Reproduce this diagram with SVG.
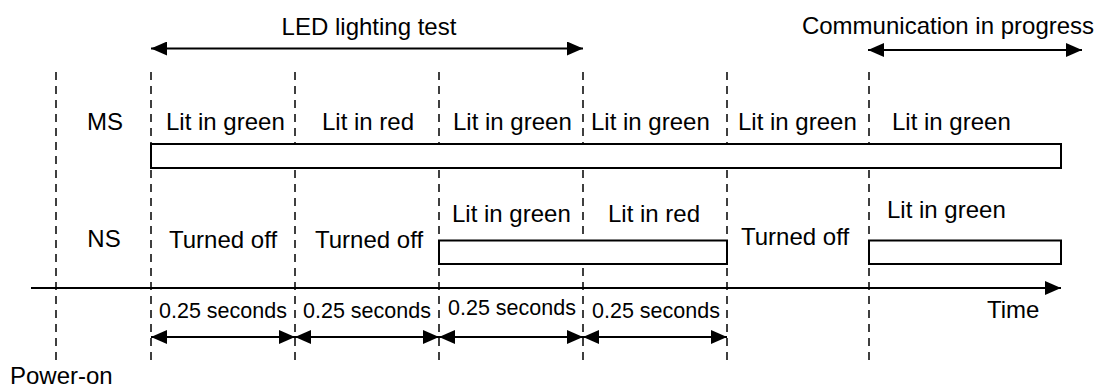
<svg xmlns="http://www.w3.org/2000/svg" width="1100" height="387" viewBox="0 0 1100 387">
<style>
text{font-family:"Liberation Sans",Arial,sans-serif;fill:#000;font-size:24px}
.s{font-size:21.5px}
.d{stroke:#000;stroke-width:1.5;stroke-dasharray:8,6;fill:none}
.l{stroke:#000;stroke-width:2;fill:none}
.b{stroke:#000;stroke-width:2;fill:#fff}
</style>
<defs>
<marker id="ae" viewBox="0 0 16 14" refX="16" refY="7" markerWidth="16" markerHeight="14" markerUnits="userSpaceOnUse" orient="auto-start-reverse"><path d="M0,0L16,7L0,14Z" fill="#000"/></marker>
</defs>
<rect width="1100" height="387" fill="#fff"/>
<g id="gridlines">
<line class="d" x1="56" y1="72" x2="56" y2="360"/>
<line class="d" x1="151" y1="72" x2="151" y2="360"/>
<line class="d" x1="295" y1="72" x2="295" y2="360"/>
<line class="d" x1="439" y1="72" x2="439" y2="360"/>
<line class="d" x1="583" y1="72" x2="583" y2="360"/>
<line class="d" x1="727" y1="72" x2="727" y2="360"/>
<line class="d" x1="869" y1="72" x2="869" y2="360"/>
</g>
<g id="connectors">
<line class="l" x1="151" y1="48.5" x2="583" y2="48.5" marker-start="url(#ae)" marker-end="url(#ae)"/>
<line class="l" x1="868" y1="50" x2="1082" y2="50" marker-start="url(#ae)" marker-end="url(#ae)"/>
<line class="l" x1="31" y1="288" x2="1061" y2="288" marker-end="url(#ae)"/>
<line class="l" x1="151" y1="337" x2="295" y2="337" marker-start="url(#ae)" marker-end="url(#ae)"/>
<line class="l" x1="295" y1="337" x2="439" y2="337" marker-start="url(#ae)" marker-end="url(#ae)"/>
<line class="l" x1="439" y1="337" x2="583" y2="337" marker-start="url(#ae)" marker-end="url(#ae)"/>
<line class="l" x1="583" y1="337" x2="727" y2="337" marker-start="url(#ae)" marker-end="url(#ae)"/>
</g>
<g id="ms-bar"><rect class="b" x="151" y="144" width="910" height="24"/></g>
<g id="ns-bar1"><rect class="b" x="439" y="240.5" width="288" height="23.5"/></g>
<g id="ns-bar2"><rect class="b" x="869" y="240.5" width="192" height="23.5"/></g>
<g id="labels">
<text x="369" y="35" text-anchor="middle">LED lighting test</text>
<text x="948" y="34" text-anchor="middle">Communication in progress</text>
<text x="105" y="130" text-anchor="middle">MS</text>
<text x="166" y="130">Lit in green</text>
<text x="322" y="130">Lit in red</text>
<text x="453" y="130">Lit in green</text>
<text x="591" y="130">Lit in green</text>
<text x="738" y="130">Lit in green</text>
<text x="892" y="130">Lit in green</text>
<text x="104" y="247" text-anchor="middle">NS</text>
<text x="169" y="248">Turned off</text>
<text x="315" y="248">Turned off</text>
<text x="452" y="222">Lit in green</text>
<text x="608" y="222">Lit in red</text>
<text x="741" y="245">Turned off</text>
<text x="887" y="218">Lit in green</text>
<text class="s" x="159" y="318">0.25 seconds</text>
<text class="s" x="303" y="318">0.25 seconds</text>
<text class="s" x="448" y="315">0.25 seconds</text>
<text class="s" x="592" y="318">0.25 seconds</text>
<text x="987" y="318">Time</text>
<text x="10" y="384">Power-on</text>
</g>
</svg>
